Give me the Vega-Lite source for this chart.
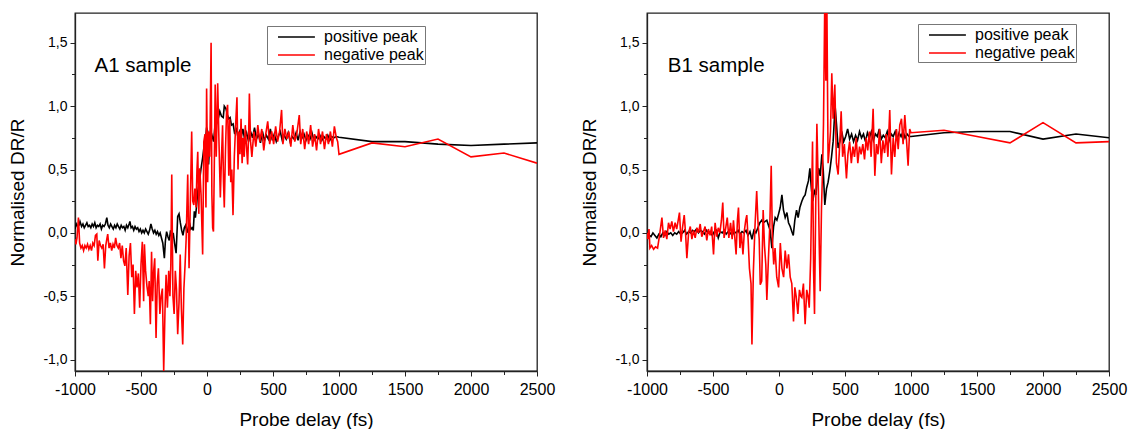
{
  "$schema": "https://vega.github.io/schema/vega-lite/v6.json",
  "background": "white",
  "padding": {"left": 8, "top": 12, "right": 5, "bottom": 2},
  "spacing": 24,
  "config": {
    "font": "Liberation Sans",
    "view": {"stroke": "#222222", "strokeWidth": 1.3},
    "axis": {
      "grid": false,
      "domainColor": "#222222",
      "domainWidth": 1.3,
      "tickColor": "#222222",
      "tickWidth": 1,
      "labelColor": "black",
      "titleColor": "black",
      "titleFontSize": 19,
      "titleFontWeight": "normal",
      "labelOverlap": false,
      "labelFlush": false
    },
    "axisX": {"labelFontSize": 16},
    "axisY": {"labelFontSize": 14},
    "legend": {
      "orient": "none",
      "strokeColor": "#777777",
      "fillColor": "white",
      "labelFontSize": 16,
      "labelColor": "black",
      "symbolType": "M0,0H4.1",
      "symbolSize": 324,
      "symbolStrokeWidth": 1.6,
      "labelOffset": 36,
      "padding": 1,
      "rowPadding": 0
    }
  },
  "datasets": {
    "a1p": [
      {"t":-1000,"v":0.03},{"t":-990,"v":0.07},{"t":-980,"v":0.05},{"t":-970,"v":0.06},{"t":-962,"v":0.09},{"t":-950,"v":0.05},{"t":-940,"v":0.07},{"t":-930,"v":0.04},{"t":-920,"v":0.06},{"t":-910,"v":0.08},{"t":-900,"v":0.05},{"t":-890,"v":0.06},{"t":-880,"v":0.04},{"t":-870,"v":0.07},{"t":-860,"v":0.05},{"t":-850,"v":0.08},{"t":-840,"v":0.04},{"t":-830,"v":0.06},{"t":-820,"v":0.05},{"t":-810,"v":0.07},{"t":-800,"v":0.03},{"t":-790,"v":0.06},{"t":-780,"v":0.05},{"t":-770,"v":0.07},{"t":-759,"v":0.12},{"t":-750,"v":0.06},{"t":-740,"v":0.04},{"t":-730,"v":0.07},{"t":-720,"v":0.05},{"t":-710,"v":0.03},{"t":-700,"v":0.06},{"t":-690,"v":0.04},{"t":-680,"v":0.07},{"t":-670,"v":0.05},{"t":-660,"v":0.03},{"t":-650,"v":0.06},{"t":-640,"v":0.04},{"t":-630,"v":0.05},{"t":-620,"v":0.02},{"t":-610,"v":0.06},{"t":-600,"v":0.04},{"t":-590,"v":0.07},{"t":-584,"v":0.09},{"t":-575,"v":0.04},{"t":-565,"v":0.05},{"t":-555,"v":0.02},{"t":-545,"v":0.05},{"t":-535,"v":0.03},{"t":-525,"v":0.04},{"t":-515,"v":0.01},{"t":-505,"v":0.03},{"t":-495,"v":0.0},{"t":-485,"v":0.02},{"t":-475,"v":0.0},{"t":-465,"v":0.03},{"t":-455,"v":0.01},{"t":-445,"v":-0.01},{"t":-435,"v":0.02},{"t":-425,"v":0.07},{"t":-415,"v":0.03},{"t":-405,"v":0.0},{"t":-395,"v":0.02},{"t":-385,"v":-0.01},{"t":-375,"v":0.01},{"t":-365,"v":-0.02},{"t":-355,"v":0.0},{"t":-345,"v":-0.04},{"t":-335,"v":-0.08},{"t":-323,"v":-0.2},{"t":-315,"v":-0.06},{"t":-306,"v":0.01},{"t":-296,"v":-0.03},{"t":-286,"v":-0.06},{"t":-276,"v":0.02},{"t":-266,"v":-0.04},{"t":-256,"v":0.0},{"t":-246,"v":-0.08},{"t":-234,"v":-0.16},{"t":-222,"v":0.13},{"t":-212,"v":0.15},{"t":-202,"v":0.08},{"t":-192,"v":0.02},{"t":-182,"v":-0.02},{"t":-172,"v":0.04},{"t":-162,"v":0.06},{"t":-152,"v":0.0},{"t":-142,"v":0.04},{"t":-132,"v":0.08},{"t":-122,"v":0.03},{"t":-112,"v":0.04},{"t":-104,"v":0.02},{"t":-96,"v":0.17},{"t":-88,"v":0.12},{"t":-80,"v":0.2},{"t":-70,"v":0.33},{"t":-58,"v":0.4},{"t":-45,"v":0.51},{"t":-32,"v":0.6},{"t":-20,"v":0.7},{"t":-10,"v":0.75},{"t":-3,"v":0.83},{"t":5,"v":0.8},{"t":12,"v":0.54},{"t":21,"v":0.72},{"t":30,"v":0.8},{"t":40,"v":0.76},{"t":50,"v":0.72},{"t":60,"v":0.84},{"t":72,"v":0.86},{"t":85,"v":0.9},{"t":97,"v":0.96},{"t":110,"v":0.92},{"t":123,"v":0.91},{"t":131,"v":1.0},{"t":143,"v":0.98},{"t":155,"v":0.93},{"t":165,"v":0.9},{"t":175,"v":0.91},{"t":185,"v":0.85},{"t":198,"v":0.86},{"t":210,"v":0.78},{"t":222,"v":0.83},{"t":235,"v":0.75},{"t":248,"v":0.8},{"t":260,"v":0.76},{"t":272,"v":0.82},{"t":285,"v":0.74},{"t":300,"v":0.79},{"t":315,"v":0.72},{"t":330,"v":0.8},{"t":345,"v":0.75},{"t":360,"v":0.83},{"t":375,"v":0.74},{"t":390,"v":0.78},{"t":405,"v":0.71},{"t":420,"v":0.8},{"t":435,"v":0.73},{"t":450,"v":0.77},{"t":465,"v":0.74},{"t":480,"v":0.82},{"t":495,"v":0.73},{"t":510,"v":0.78},{"t":525,"v":0.72},{"t":540,"v":0.76},{"t":555,"v":0.8},{"t":570,"v":0.73},{"t":585,"v":0.77},{"t":600,"v":0.74},{"t":615,"v":0.79},{"t":630,"v":0.72},{"t":645,"v":0.76},{"t":660,"v":0.74},{"t":675,"v":0.79},{"t":690,"v":0.73},{"t":705,"v":0.8},{"t":720,"v":0.75},{"t":735,"v":0.78},{"t":750,"v":0.73},{"t":765,"v":0.77},{"t":780,"v":0.74},{"t":795,"v":0.79},{"t":810,"v":0.73},{"t":825,"v":0.76},{"t":840,"v":0.74},{"t":855,"v":0.77},{"t":870,"v":0.73},{"t":885,"v":0.76},{"t":900,"v":0.74},{"t":915,"v":0.77},{"t":930,"v":0.73},{"t":945,"v":0.76},{"t":960,"v":0.75},{"t":980,"v":0.76},{"t":1000,"v":0.755},{"t":1250,"v":0.72},{"t":1500,"v":0.72},{"t":1750,"v":0.7},{"t":2000,"v":0.69},{"t":2250,"v":0.7},{"t":2500,"v":0.71}
    ],
    "a1n": [
      {"t":-1000,"v":-0.05},{"t":-993,"v":-0.09},{"t":-985,"v":-0.04},{"t":-974,"v":0.12},{"t":-965,"v":-0.08},{"t":-955,"v":-0.12},{"t":-945,"v":-0.1},{"t":-935,"v":-0.14},{"t":-925,"v":-0.1},{"t":-915,"v":-0.12},{"t":-905,"v":-0.09},{"t":-895,"v":-0.13},{"t":-885,"v":-0.1},{"t":-875,"v":-0.14},{"t":-865,"v":-0.08},{"t":-855,"v":-0.1},{"t":-845,"v":-0.02},{"t":-835,"v":-0.01},{"t":-827,"v":-0.22},{"t":-817,"v":-0.06},{"t":-807,"v":-0.1},{"t":-797,"v":-0.12},{"t":-787,"v":-0.09},{"t":-777,"v":-0.28},{"t":-767,"v":-0.1},{"t":-759,"v":-0.05},{"t":-752,"v":-0.01},{"t":-742,"v":-0.12},{"t":-732,"v":-0.08},{"t":-722,"v":-0.14},{"t":-712,"v":-0.09},{"t":-702,"v":-0.12},{"t":-692,"v":-0.04},{"t":-682,"v":-0.1},{"t":-672,"v":-0.12},{"t":-662,"v":-0.08},{"t":-652,"v":-0.2},{"t":-642,"v":-0.1},{"t":-632,"v":-0.22},{"t":-622,"v":-0.26},{"t":-612,"v":-0.12},{"t":-600,"v":-0.49},{"t":-590,"v":-0.18},{"t":-580,"v":-0.08},{"t":-570,"v":-0.35},{"t":-560,"v":-0.25},{"t":-550,"v":-0.64},{"t":-540,"v":-0.3},{"t":-530,"v":-0.43},{"t":-520,"v":-0.32},{"t":-510,"v":-0.59},{"t":-500,"v":-0.25},{"t":-490,"v":-0.07},{"t":-480,"v":-0.54},{"t":-474,"v":-0.09},{"t":-465,"v":-0.3},{"t":-455,"v":-0.42},{"t":-445,"v":-0.5},{"t":-438,"v":-0.38},{"t":-429,"v":-0.72},{"t":-420,"v":-0.15},{"t":-412,"v":-0.54},{"t":-404,"v":-0.3},{"t":-396,"v":-0.2},{"t":-386,"v":-0.83},{"t":-377,"v":-0.4},{"t":-368,"v":-0.28},{"t":-357,"v":-0.64},{"t":-348,"v":-0.5},{"t":-338,"v":-0.44},{"t":-328,"v":-1.09},{"t":-318,"v":-0.6},{"t":-310,"v":-0.33},{"t":-300,"v":-0.59},{"t":-290,"v":-0.3},{"t":-281,"v":-0.5},{"t":-274,"v":-0.25},{"t":-267,"v":0.46},{"t":-258,"v":-0.5},{"t":-249,"v":-0.64},{"t":-240,"v":-0.3},{"t":-231,"v":-0.45},{"t":-222,"v":-0.8},{"t":-212,"v":-0.55},{"t":-203,"v":-0.17},{"t":-194,"v":-0.6},{"t":-184,"v":-0.88},{"t":-175,"v":-0.44},{"t":-166,"v":-0.25},{"t":-158,"v":-0.05},{"t":-146,"v":0.46},{"t":-136,"v":-0.28},{"t":-128,"v":0.15},{"t":-116,"v":0.8},{"t":-108,"v":0.25},{"t":-100,"v":0.22},{"t":-92,"v":0.35},{"t":-83,"v":0.2},{"t":-76,"v":0.5},{"t":-70,"v":0.64},{"t":-62,"v":0.15},{"t":-55,"v":0.51},{"t":-45,"v":0.3},{"t":-33,"v":-0.17},{"t":-24,"v":0.72},{"t":-15,"v":0.78},{"t":-8,"v":0.2},{"t":-3,"v":1.14},{"t":5,"v":0.4},{"t":12,"v":0.8},{"t":21,"v":0.6},{"t":31,"v":1.5},{"t":37,"v":0.3},{"t":43,"v":0.04},{"t":49,"v":0.01},{"t":55,"v":0.5},{"t":62,"v":1.17},{"t":70,"v":0.6},{"t":81,"v":1.18},{"t":90,"v":0.75},{"t":101,"v":0.28},{"t":110,"v":0.6},{"t":118,"v":0.85},{"t":125,"v":0.4},{"t":131,"v":0.2},{"t":140,"v":0.65},{"t":148,"v":0.95},{"t":156,"v":1.01},{"t":165,"v":0.45},{"t":172,"v":0.9},{"t":180,"v":0.4},{"t":188,"v":0.5},{"t":197,"v":0.14},{"t":207,"v":0.6},{"t":217,"v":0.85},{"t":227,"v":1.07},{"t":235,"v":0.5},{"t":242,"v":0.8},{"t":250,"v":0.62},{"t":258,"v":0.9},{"t":266,"v":0.55},{"t":274,"v":0.75},{"t":282,"v":0.6},{"t":290,"v":0.85},{"t":298,"v":0.7},{"t":308,"v":0.54},{"t":316,"v":0.8},{"t":321,"v":1.1},{"t":330,"v":0.72},{"t":340,"v":0.6},{"t":355,"v":0.8},{"t":370,"v":0.68},{"t":385,"v":0.85},{"t":400,"v":0.72},{"t":415,"v":0.82},{"t":430,"v":0.65},{"t":445,"v":0.78},{"t":460,"v":0.88},{"t":475,"v":0.7},{"t":490,"v":0.8},{"t":505,"v":0.7},{"t":520,"v":0.84},{"t":535,"v":0.72},{"t":550,"v":0.8},{"t":565,"v":0.97},{"t":575,"v":0.7},{"t":590,"v":0.82},{"t":605,"v":0.74},{"t":620,"v":0.8},{"t":635,"v":0.68},{"t":650,"v":0.85},{"t":665,"v":0.72},{"t":680,"v":0.78},{"t":699,"v":0.93},{"t":710,"v":0.7},{"t":725,"v":0.82},{"t":740,"v":0.66},{"t":755,"v":0.8},{"t":770,"v":0.7},{"t":785,"v":0.85},{"t":800,"v":0.68},{"t":815,"v":0.78},{"t":830,"v":0.65},{"t":845,"v":0.82},{"t":860,"v":0.7},{"t":875,"v":0.8},{"t":890,"v":0.66},{"t":905,"v":0.78},{"t":920,"v":0.7},{"t":935,"v":0.8},{"t":950,"v":0.68},{"t":965,"v":0.84},{"t":980,"v":0.75},{"t":990,"v":0.72},{"t":1000,"v":0.62},{"t":1250,"v":0.71},{"t":1500,"v":0.68},{"t":1750,"v":0.74},{"t":2000,"v":0.6},{"t":2250,"v":0.63},{"t":2500,"v":0.55}
    ],
    "b1p": [
      {"t":-1000,"v":0.0},{"t":-985,"v":-0.02},{"t":-970,"v":-0.03},{"t":-955,"v":0.0},{"t":-940,"v":-0.02},{"t":-925,"v":-0.04},{"t":-910,"v":-0.01},{"t":-895,"v":-0.03},{"t":-880,"v":0.0},{"t":-865,"v":-0.02},{"t":-850,"v":0.01},{"t":-835,"v":-0.01},{"t":-820,"v":0.0},{"t":-805,"v":-0.02},{"t":-790,"v":0.0},{"t":-775,"v":-0.01},{"t":-760,"v":0.01},{"t":-745,"v":-0.01},{"t":-730,"v":0.0},{"t":-715,"v":0.02},{"t":-700,"v":-0.01},{"t":-685,"v":0.01},{"t":-670,"v":0.0},{"t":-655,"v":0.02},{"t":-640,"v":0.01},{"t":-625,"v":0.03},{"t":-610,"v":0.0},{"t":-595,"v":0.02},{"t":-580,"v":0.01},{"t":-565,"v":-0.01},{"t":-550,"v":0.02},{"t":-535,"v":0.0},{"t":-520,"v":0.01},{"t":-505,"v":-0.02},{"t":-490,"v":0.01},{"t":-475,"v":0.02},{"t":-460,"v":-0.04},{"t":-445,"v":0.01},{"t":-430,"v":0.0},{"t":-415,"v":0.02},{"t":-400,"v":-0.01},{"t":-385,"v":0.01},{"t":-370,"v":0.0},{"t":-355,"v":-0.02},{"t":-340,"v":0.01},{"t":-325,"v":0.0},{"t":-310,"v":0.02},{"t":-295,"v":-0.01},{"t":-280,"v":0.01},{"t":-265,"v":0.0},{"t":-250,"v":0.02},{"t":-235,"v":-0.02},{"t":-220,"v":0.01},{"t":-205,"v":-0.05},{"t":-190,"v":0.02},{"t":-175,"v":0.0},{"t":-160,"v":0.04},{"t":-145,"v":0.08},{"t":-130,"v":0.1},{"t":-118,"v":0.08},{"t":-105,"v":0.09},{"t":-92,"v":0.1},{"t":-80,"v":0.06},{"t":-67,"v":0.02},{"t":-54,"v":-0.12},{"t":-41,"v":0.05},{"t":-29,"v":0.12},{"t":-16,"v":0.1},{"t":-3,"v":0.15},{"t":9,"v":0.2},{"t":22,"v":0.3},{"t":34,"v":0.18},{"t":47,"v":0.12},{"t":60,"v":0.16},{"t":72,"v":0.08},{"t":85,"v":0.05},{"t":97,"v":0.01},{"t":108,"v":-0.02},{"t":120,"v":0.1},{"t":133,"v":0.18},{"t":145,"v":0.12},{"t":158,"v":0.2},{"t":173,"v":0.25},{"t":185,"v":0.28},{"t":198,"v":0.3},{"t":210,"v":0.36},{"t":223,"v":0.41},{"t":234,"v":0.51},{"t":245,"v":0.35},{"t":256,"v":0.25},{"t":268,"v":0.33},{"t":280,"v":0.3},{"t":290,"v":0.42},{"t":300,"v":0.51},{"t":312,"v":0.45},{"t":325,"v":0.62},{"t":335,"v":0.5},{"t":347,"v":0.22},{"t":360,"v":0.35},{"t":372,"v":0.4},{"t":385,"v":0.49},{"t":398,"v":0.6},{"t":410,"v":0.72},{"t":425,"v":1.0},{"t":436,"v":0.85},{"t":448,"v":0.67},{"t":461,"v":0.72},{"t":475,"v":0.8},{"t":490,"v":0.72},{"t":505,"v":0.76},{"t":520,"v":0.82},{"t":535,"v":0.74},{"t":550,"v":0.78},{"t":565,"v":0.72},{"t":580,"v":0.77},{"t":595,"v":0.73},{"t":610,"v":0.8},{"t":625,"v":0.75},{"t":640,"v":0.78},{"t":655,"v":0.72},{"t":670,"v":0.79},{"t":685,"v":0.75},{"t":700,"v":0.8},{"t":715,"v":0.73},{"t":730,"v":0.78},{"t":745,"v":0.76},{"t":760,"v":0.82},{"t":775,"v":0.74},{"t":790,"v":0.77},{"t":805,"v":0.75},{"t":820,"v":0.8},{"t":835,"v":0.73},{"t":850,"v":0.78},{"t":865,"v":0.76},{"t":880,"v":0.8},{"t":895,"v":0.74},{"t":910,"v":0.79},{"t":925,"v":0.76},{"t":940,"v":0.8},{"t":955,"v":0.75},{"t":970,"v":0.78},{"t":985,"v":0.76},{"t":1000,"v":0.76},{"t":1250,"v":0.79},{"t":1500,"v":0.8},{"t":1750,"v":0.8},{"t":2000,"v":0.74},{"t":2250,"v":0.78},{"t":2500,"v":0.75}
    ],
    "b1n": [
      {"t":-1000,"v":0.0},{"t":-993,"v":-0.05},{"t":-985,"v":0.03},{"t":-978,"v":-0.12},{"t":-965,"v":-0.1},{"t":-950,"v":-0.13},{"t":-935,"v":-0.11},{"t":-920,"v":-0.12},{"t":-905,"v":-0.02},{"t":-887,"v":0.12},{"t":-875,"v":-0.04},{"t":-862,"v":0.02},{"t":-850,"v":-0.05},{"t":-837,"v":0.08},{"t":-825,"v":0.03},{"t":-812,"v":0.09},{"t":-800,"v":0.01},{"t":-787,"v":0.08},{"t":-775,"v":0.03},{"t":-765,"v":0.09},{"t":-754,"v":0.16},{"t":-742,"v":-0.07},{"t":-730,"v":0.05},{"t":-718,"v":0.14},{"t":-708,"v":0.0},{"t":-698,"v":-0.2},{"t":-685,"v":0.0},{"t":-672,"v":0.05},{"t":-660,"v":-0.05},{"t":-648,"v":0.02},{"t":-635,"v":-0.04},{"t":-622,"v":0.04},{"t":-610,"v":0.0},{"t":-597,"v":0.07},{"t":-585,"v":-0.03},{"t":-572,"v":0.01},{"t":-560,"v":0.05},{"t":-547,"v":-0.06},{"t":-535,"v":0.03},{"t":-522,"v":-0.02},{"t":-510,"v":0.05},{"t":-496,"v":-0.17},{"t":-484,"v":0.08},{"t":-472,"v":-0.03},{"t":-460,"v":0.04},{"t":-448,"v":0.0},{"t":-436,"v":0.1},{"t":-426,"v":0.24},{"t":-416,"v":-0.04},{"t":-405,"v":0.03},{"t":-392,"v":0.12},{"t":-380,"v":-0.04},{"t":-367,"v":0.08},{"t":-355,"v":-0.05},{"t":-345,"v":0.1},{"t":-336,"v":-0.02},{"t":-325,"v":-0.17},{"t":-315,"v":0.1},{"t":-307,"v":0.2},{"t":-296,"v":-0.12},{"t":-285,"v":0.0},{"t":-273,"v":-0.17},{"t":-262,"v":0.02},{"t":-252,"v":0.1},{"t":-244,"v":0.14},{"t":-234,"v":-0.05},{"t":-224,"v":-0.28},{"t":-212,"v":-0.4},{"t":-205,"v":-0.88},{"t":-194,"v":-0.3},{"t":-182,"v":0.05},{"t":-169,"v":0.33},{"t":-160,"v":0.1},{"t":-150,"v":-0.05},{"t":-142,"v":-0.41},{"t":-131,"v":-0.38},{"t":-120,"v":0.18},{"t":-110,"v":-0.1},{"t":-100,"v":-0.25},{"t":-92,"v":-0.53},{"t":-80,"v":-0.2},{"t":-70,"v":0.05},{"t":-59,"v":0.53},{"t":-50,"v":-0.05},{"t":-40,"v":-0.25},{"t":-30,"v":-0.12},{"t":-17,"v":-0.35},{"t":-3,"v":-0.43},{"t":10,"v":-0.08},{"t":22,"v":-0.28},{"t":35,"v":-0.35},{"t":47,"v":-0.14},{"t":60,"v":-0.28},{"t":72,"v":-0.17},{"t":85,"v":-0.35},{"t":97,"v":-0.4},{"t":110,"v":-0.7},{"t":120,"v":-0.43},{"t":130,"v":-0.5},{"t":143,"v":-0.64},{"t":155,"v":-0.45},{"t":165,"v":-0.5},{"t":173,"v":-0.51},{"t":185,"v":-0.4},{"t":198,"v":-0.72},{"t":210,"v":-0.45},{"t":220,"v":-0.5},{"t":229,"v":-0.59},{"t":240,"v":-0.2},{"t":254,"v":0.72},{"t":262,"v":-0.3},{"t":269,"v":-0.64},{"t":278,"v":0.2},{"t":287,"v":0.86},{"t":298,"v":0.35},{"t":305,"v":-0.1},{"t":312,"v":-0.46},{"t":322,"v":0.2},{"t":330,"v":0.5},{"t":337,"v":0.86},{"t":347,"v":1.85},{"t":355,"v":1.2},{"t":362,"v":1.9},{"t":372,"v":0.55},{"t":380,"v":0.65},{"t":390,"v":0.8},{"t":400,"v":1.26},{"t":410,"v":0.9},{"t":423,"v":1.17},{"t":435,"v":0.55},{"t":448,"v":0.46},{"t":460,"v":0.7},{"t":471,"v":0.96},{"t":482,"v":0.6},{"t":495,"v":0.7},{"t":511,"v":0.43},{"t":522,"v":0.62},{"t":535,"v":0.72},{"t":548,"v":0.55},{"t":560,"v":0.68},{"t":572,"v":0.6},{"t":585,"v":0.75},{"t":597,"v":0.55},{"t":610,"v":0.68},{"t":622,"v":0.62},{"t":635,"v":0.7},{"t":648,"v":0.58},{"t":660,"v":0.75},{"t":672,"v":0.65},{"t":685,"v":0.8},{"t":698,"v":0.6},{"t":713,"v":0.98},{"t":726,"v":0.45},{"t":738,"v":0.7},{"t":750,"v":0.62},{"t":762,"v":0.82},{"t":775,"v":0.55},{"t":787,"v":0.73},{"t":800,"v":0.63},{"t":812,"v":0.78},{"t":825,"v":0.6},{"t":839,"v":0.97},{"t":852,"v":0.46},{"t":865,"v":0.75},{"t":877,"v":0.6},{"t":890,"v":0.82},{"t":903,"v":0.66},{"t":915,"v":0.85},{"t":928,"v":0.9},{"t":940,"v":0.7},{"t":953,"v":0.93},{"t":965,"v":0.75},{"t":978,"v":0.53},{"t":990,"v":0.82},{"t":1000,"v":0.79},{"t":1250,"v":0.81},{"t":1500,"v":0.76},{"t":1750,"v":0.71},{"t":2000,"v":0.87},{"t":2250,"v":0.71},{"t":2500,"v":0.72}
    ]
  },
  "hconcat": [
    {
      "width": 462,
      "height": 358,
      "encoding": {
        "x": {"field": "t", "type": "quantitative", "title": "Probe delay (fs)",
          "scale": {"domain": [-1000, 2500], "nice": false, "zero": false},
          "axis": {"values": [-1000,-750,-500,-250,0,250,500,750,1000,1250,1500,1750,2000,2250,2500],
            "labelExpr": "datum.value % 500 == 0 ? replace(format(datum.value, 'd'), '\u2212', '-') : ''",
            "tickSize": {"condition": {"test": "datum.value % 500 != 0", "value": 3.5}, "value": 5},
            "labelPadding": 5, "titlePadding": 13}},
        "y": {"field": "v", "type": "quantitative", "title": "Normalised DR/R",
          "scale": {"domain": [-1.09, 1.735], "nice": false, "zero": false},
          "axis": {"values": [-1,-0.75,-0.5,-0.25,0,0.25,0.5,0.75,1,1.25,1.5],
            "labelExpr": "datum.value % 0.5 == 0 ? replace(replace(format(datum.value, '.1f'), '.', ','), '\u2212', '-') : ''",
            "tickSize": {"condition": {"test": "datum.value % 0.5 != 0", "value": 3.5}, "value": 5},
            "labelPadding": 3, "titlePadding": 15}}
      },
      "layer": [
        {"data": {"name": "a1p"}, "mark": {"type": "line", "strokeWidth": 1.6, "clip": true},
          "encoding": {"color": {"datum": "positive peak", "type": "nominal",
            "scale": {"domain": ["positive peak", "negative peak"], "range": ["#000000", "#ff0000"]},
            "legend": {"title": null, "legendX": 192, "legendY": 13}}}},
        {"data": {"name": "a1n"}, "mark": {"type": "line", "strokeWidth": 1.6, "clip": true},
          "encoding": {"color": {"datum": "negative peak", "type": "nominal",
            "scale": {"domain": ["positive peak", "negative peak"], "range": ["#000000", "#ff0000"]},
            "legend": {"title": null, "legendX": 192, "legendY": 13}}}},
        {"data": {"values": [{"t": -852, "v": 1.27, "label": "A1 sample"}]},
          "mark": {"type": "text", "align": "left", "baseline": "alphabetic", "fontSize": 20.5, "color": "black"},
          "encoding": {"text": {"field": "label"}}}
      ]
    },
    {
      "width": 462,
      "height": 358,
      "encoding": {
        "x": {"field": "t", "type": "quantitative", "title": "Probe delay (fs)",
          "scale": {"domain": [-1000, 2500], "nice": false, "zero": false},
          "axis": {"values": [-1000,-750,-500,-250,0,250,500,750,1000,1250,1500,1750,2000,2250,2500],
            "labelExpr": "datum.value % 500 == 0 ? replace(format(datum.value, 'd'), '\u2212', '-') : ''",
            "tickSize": {"condition": {"test": "datum.value % 500 != 0", "value": 3.5}, "value": 5},
            "labelPadding": 5, "titlePadding": 13}},
        "y": {"field": "v", "type": "quantitative", "title": "Normalised DR/R",
          "scale": {"domain": [-1.09, 1.735], "nice": false, "zero": false},
          "axis": {"values": [-1,-0.75,-0.5,-0.25,0,0.25,0.5,0.75,1,1.25,1.5],
            "labelExpr": "datum.value % 0.5 == 0 ? replace(replace(format(datum.value, '.1f'), '.', ','), '\u2212', '-') : ''",
            "tickSize": {"condition": {"test": "datum.value % 0.5 != 0", "value": 3.5}, "value": 5},
            "labelPadding": 3, "titlePadding": 15}}
      },
      "layer": [
        {"data": {"name": "b1p"}, "mark": {"type": "line", "strokeWidth": 1.6, "clip": true},
          "encoding": {"color": {"datum": "positive peak", "type": "nominal",
            "scale": {"domain": ["positive peak", "negative peak"], "range": ["#000000", "#ff0000"]},
            "legend": {"title": null, "legendX": 271, "legendY": 11}}}},
        {"data": {"name": "b1n"}, "mark": {"type": "line", "strokeWidth": 1.6, "clip": true},
          "encoding": {"color": {"datum": "negative peak", "type": "nominal",
            "scale": {"domain": ["positive peak", "negative peak"], "range": ["#000000", "#ff0000"]},
            "legend": {"title": null, "legendX": 271, "legendY": 11}}}},
        {"data": {"values": [{"t": -843, "v": 1.27, "label": "B1 sample"}]},
          "mark": {"type": "text", "align": "left", "baseline": "alphabetic", "fontSize": 20.5, "color": "black"},
          "encoding": {"text": {"field": "label"}}}
      ]
    }
  ],
  "resolve": {"scale": {"color": "independent"}, "legend": {"color": "independent"}}
}
